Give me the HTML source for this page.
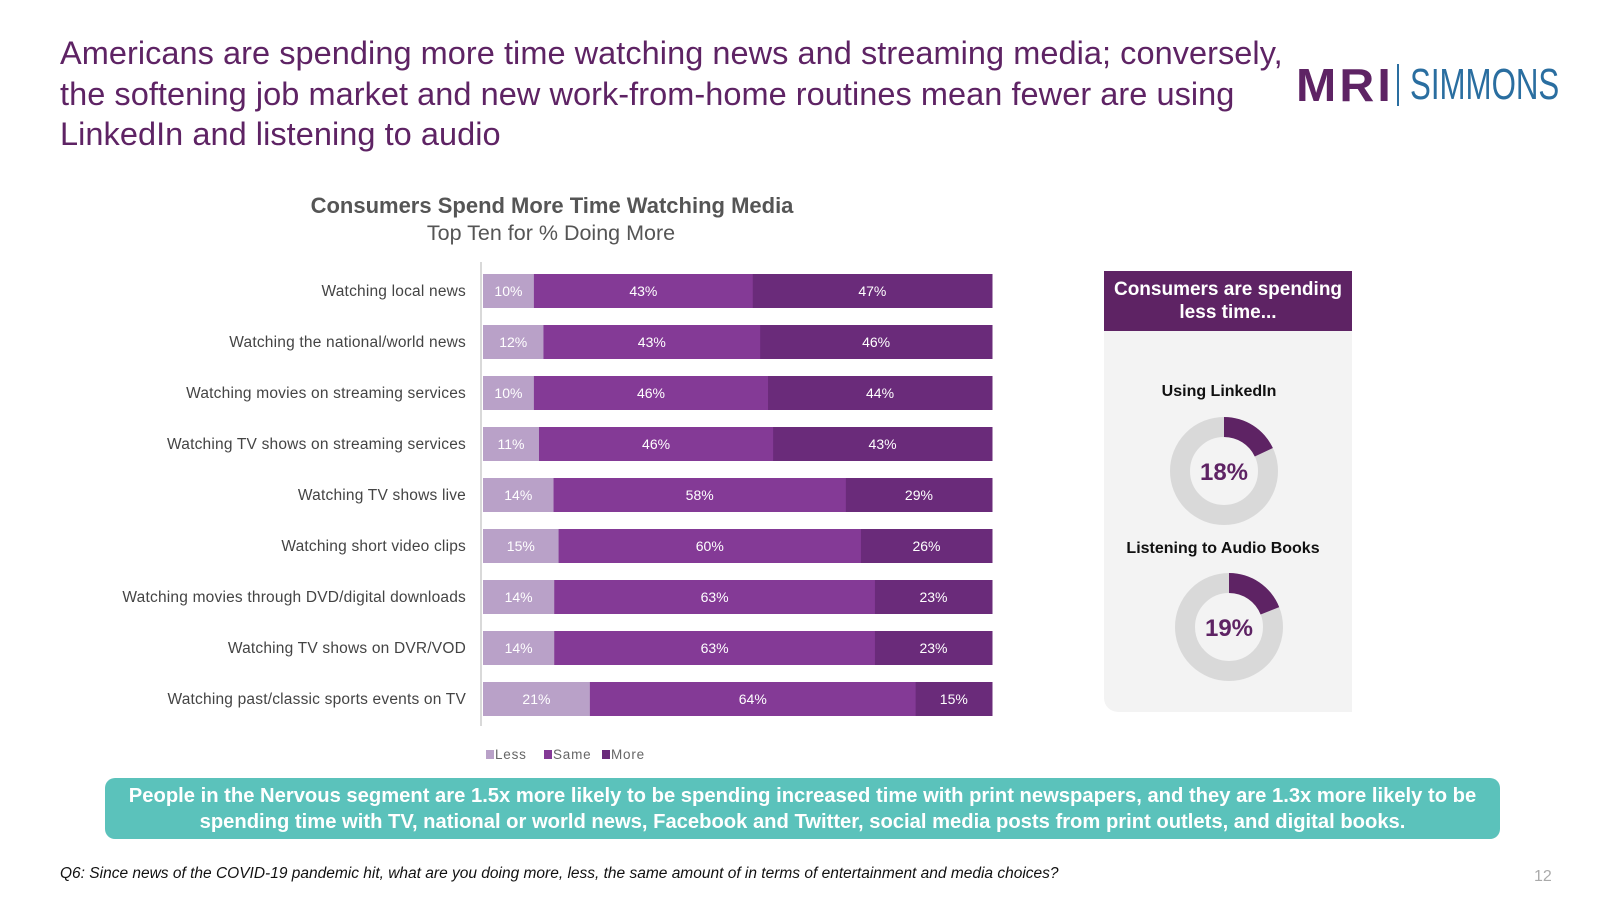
<!DOCTYPE html>
<html><head><meta charset="utf-8">
<style>
body{margin:0;width:1600px;height:900px;background:#fff;position:relative;overflow:hidden;font-family:"Liberation Sans",sans-serif}
.t{position:absolute;white-space:nowrap}
</style></head>
<body>
<div class="t" style="left:60px;top:33px;font-size:32.5px;line-height:40.5px;color:#5e2364;letter-spacing:0.05px">Americans are spending more time watching news and streaming media; conversely,<br>the softening job market and new work-from-home routines mean fewer are using<br>LinkedIn and listening to audio</div>
<div class="t" style="left:1296px;top:58px;font-size:46px;font-weight:900;color:#5e2364;letter-spacing:3px;transform:scaleX(1.05);transform-origin:left">MRI</div>
<div style="position:absolute;left:1397px;top:64px;width:2px;height:42px;background:#2a6ea0"></div>
<div class="t" style="left:1410px;top:60px;font-size:44px;color:#2a6ea0;transform:scaleX(0.71);transform-origin:left">SIMMONS</div>

<div class="t" style="left:552px;top:193px;transform:translateX(-50%);font-size:22px;font-weight:bold;color:#555">Consumers Spend More Time Watching Media</div>
<div class="t" style="left:551px;top:221px;transform:translateX(-50%);font-size:21.5px;color:#555">Top Ten for % Doing More</div>

<svg id="chart" style="position:absolute;left:0;top:0" width="1600" height="900"></svg>

<div style="position:absolute;left:1104px;top:271px;width:248px;height:441px;background:#f3f3f3;border-bottom-left-radius:14px"></div>
<div style="position:absolute;left:1104px;top:271px;width:248px;height:60px;background:#5e2364;color:#fff;font-size:19px;font-weight:bold;text-align:center;line-height:23px;padding-top:7px;box-sizing:border-box">Consumers are spending<br>less time...</div>
<div class="t" style="left:1219px;top:383px;transform:translateX(-50%);font-size:16px;font-weight:bold;color:#111">Using LinkedIn</div>
<div class="t" style="left:1223px;top:540px;transform:translateX(-50%);font-size:16px;font-weight:bold;color:#111">Listening to Audio Books</div>
<svg id="donuts" style="position:absolute;left:0;top:0" width="1600" height="900"></svg>

<div style="position:absolute;left:105px;top:778px;width:1395px;height:61px;background:#5bc2bb;border-radius:10px;color:#fff;font-size:20.2px;font-weight:bold;text-align:center;line-height:26px;padding-top:5px;box-sizing:border-box;white-space:nowrap">People in the Nervous segment are 1.5x more likely to be spending increased time with print newspapers, and they are 1.3x more likely to be<br>spending time with TV, national or world news, Facebook and Twitter, social media posts from print outlets, and digital books.</div>
<div class="t" style="left:60px;top:865px;font-size:15.5px;font-style:italic;color:#111">Q6: Since news of the COVID-19 pandemic hit, what are you doing more, less, the same amount of in terms of entertainment and media choices?</div>
<div class="t" style="left:1534px;top:868px;font-size:16px;color:#aaa">12</div>

<script>
const categories=["Watching local news","Watching the national/world news","Watching movies on streaming services","Watching TV shows on streaming services","Watching TV shows live","Watching short video clips","Watching movies through DVD/digital downloads","Watching TV shows on DVR/VOD","Watching past/classic sports events on TV"];
const lessVals=[10,12,10,11,14,15,14,14,21];
const sameVals=[43,43,46,46,58,60,63,63,64];
const moreVals=[47,46,44,43,29,26,23,23,15];
const seriesNames=["Less","Same","More"];
const donutLabels=["18%","19%"];
const donutVals=[18,19];

const NS="http://www.w3.org/2000/svg";
const svg=document.getElementById('chart');
const colors=["#b9a1c8","#843a96","#6a2b7a"];
const x0=483,x1=992,yTop=274,pitch=51,bh=34;
function xs(v,tot){return v/tot*(x1-x0);}
function yb(i){return yTop+i*pitch;}
function mk(tag,attrs){const e=document.createElementNS(NS,tag);for(const k in attrs)e.setAttribute(k,attrs[k]);return e;}
const axis=mk('line',{x1:481,x2:481,y1:262,y2:yb(8)+bh+10,stroke:'#d9d9d9','stroke-width':2});


svg.appendChild(axis);
const series=[lessVals,sameVals,moreVals];
categories.forEach((c,i)=>{
  const y=yb(i);
  const lab=mk('text',{x:466,y:y+bh/2+5,'text-anchor':'end','font-size':15.5,fill:'#444','font-family':'Liberation Sans, sans-serif','letter-spacing':'0.2'});
  lab.textContent=c;
  
  
  svg.appendChild(lab);
  const tot=lessVals[i]+sameVals[i]+moreVals[i];
  let cx=x0;
  series.forEach((s,j)=>{
    const w=xs(s[i],tot);
    const r=mk('rect',{x:cx,y:y,width:w+0.5,height:bh,fill:colors[j]});
    
    
    svg.appendChild(r);
    const t=mk('text',{x:cx+w/2,y:y+bh/2+5,'text-anchor':'middle','font-size':14,fill:'#fff','font-family':'Liberation Sans, sans-serif'});
    t.textContent=s[i]+'%';
    
    
    svg.appendChild(t);
    cx+=w;
  });
});
let lx=486;
seriesNames.forEach((n,j)=>{
  const r=mk('rect',{x:lx,y:750,width:8,height:9,fill:colors[j]});
  
  
  svg.appendChild(r);
  const t=mk('text',{x:lx+9,y:759,'font-size':13.5,fill:'#666','font-family':'Liberation Sans, sans-serif','letter-spacing':'0.8'});
  t.textContent=n;
  
  
  svg.appendChild(t);
  lx+= n.length*9+22;
});

const ds=document.getElementById('donuts');
const centers=[[1224,471],[1229,627]];
donutVals.forEach((v,i)=>{
  const [cx,cy]=centers[i];const r=44;
  const bg=mk('circle',{cx,cy,r,fill:'none',stroke:'#d9d9d9','stroke-width':20});
  
  
  ds.appendChild(bg);
  const a=v/100*2*Math.PI;
  const ro=54,ri=34;
  const p=`M${cx},${cy-ro} A${ro},${ro} 0 0 1 ${cx+ro*Math.sin(a)},${cy-ro*Math.cos(a)} L${cx+ri*Math.sin(a)},${cy-ri*Math.cos(a)} A${ri},${ri} 0 0 0 ${cx},${cy-ri} Z`;
  const seg=mk('path',{d:p,fill:'#5e2364'});
  
  
  ds.appendChild(seg);
  const t=mk('text',{x:cx,y:cy+9,'text-anchor':'middle','font-size':24,'font-weight':'bold',fill:'#5e2364','font-family':'Liberation Sans, sans-serif'});
  t.textContent=donutLabels[i];
  
  
  ds.appendChild(t);
});
</script>
</body></html>
